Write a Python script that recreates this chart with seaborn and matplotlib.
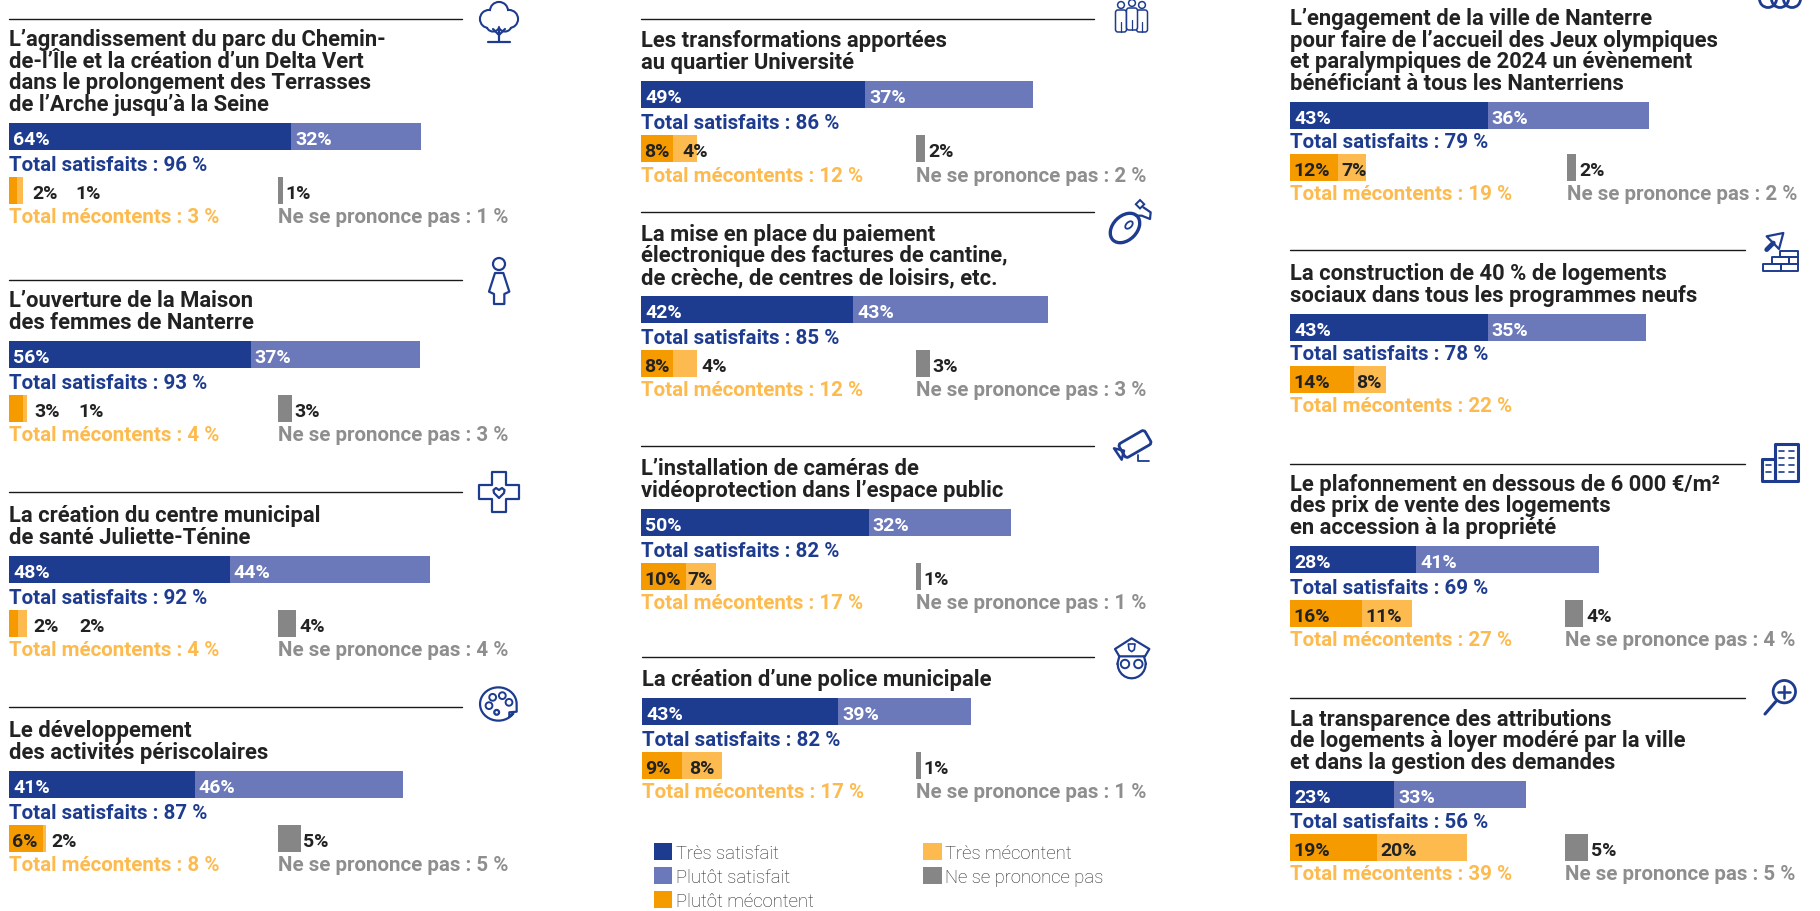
#!/usr/bin/env python3
"""Satisfaction survey, Nanterre: stacked bars per policy with icons."""

import matplotlib
matplotlib.use('Agg')
import matplotlib.pyplot as plt
import numpy as np
import seaborn as sns
from matplotlib.patches import Circle, Ellipse, FancyBboxPatch, Patch, Rectangle
from matplotlib.transforms import Affine2D

TITLES = [
    "L’agrandissement du parc du Chemin-\nde-l’Île et la création d’un Delta Vert\ndans le prolongement des Terrasses\nde l’Arche jusqu’à la Seine",
    "L’ouverture de la Maison\ndes femmes de Nanterre",
    "La création du centre municipal\nde santé Juliette-Ténine",
    "Le développement\ndes activités périscolaires",
    "Les transformations apportées\nau quartier Université",
    "La mise en place du paiement\nélectronique des factures de cantine,\nde crèche, de centres de loisirs, etc.",
    "L’installation de caméras de\nvidéoprotection dans l’espace public",
    "La création d’une police municipale",
    "L’engagement de la ville de Nanterre\npour faire de l’accueil des Jeux olympiques\net paralympiques de 2024 un évènement\nbénéficiant à tous les Nanterriens",
    "La construction de 40 % de logements\nsociaux dans tous les programmes neufs",
    "Le plafonnement en dessous de 6 000 €/m²\ndes prix de vente des logements\nen accession à la propriété",
    "La transparence des attributions\nde logements à loyer modéré par la ville\net dans la gestion des demandes",
]
# printed percentages
TRES_SATISFAIT = [64, 56, 48, 41, 49, 42, 50, 43, 43, 43, 28, 23]
PLUTOT_SATISFAIT = [32, 37, 44, 46, 37, 43, 32, 39, 36, 35, 41, 33]
PLUTOT_MECONTENT = [2, 3, 2, 6, 8, 8, 10, 9, 12, 14, 16, 19]
TRES_MECONTENT = [1, 1, 2, 2, 4, 4, 7, 8, 7, 8, 11, 20]
NE_SE_PRONONCE_PAS = [1, 3, 4, 5, 2, 3, 1, 1, 2, 0, 4, 5]
TOTAL_SATISFAITS = [96, 93, 92, 87, 86, 85, 82, 82, 79, 78, 69, 56]
TOTAL_MECONTENTS = [3, 4, 4, 8, 12, 12, 17, 17, 19, 22, 27, 39]
# bar lengths as they read off the picture: they do not always agree with the printed figure
BAR_TRES_SATISFAIT = [62.7, 53.7, 49, 41.3, 49.8, 47.2, 50.6, 43.6, 43.9, 43.9, 28.1, 23.2]
BAR_PLUTOT_SATISFAIT = [28.9, 37.7, 44.6, 46.2, 37.4, 43.3, 31.7, 29.4, 35.9, 35.1, 40.5, 29.2]
BAR_PLUTOT_MECONTENT = [1.8, 3.1, 2, 7.5, 7.2, 7.2, 10, 8.8, 10.6, 14.2, 16, 19.4]
BAR_TRES_MECONTENT = [1.2, 0.8, 2, 0.8, 5.2, 5.2, 6.7, 9, 6.2, 7.2, 11, 20]
LEGEND_LABELS = ['Très satisfait', 'Plutôt satisfait', 'Plutôt mécontent', 'Très mécontent', 'Ne se prononce pas']

# layout, in pixels of the 1820x912 picture
W, H = 1820, 912
PX_PER_PCT = 4.5
BAR_H = 27
PANEL_X = [9, 9, 9, 9, 641, 641, 641, 642, 1290, 1290, 1290, 1290]
RULE_Y = [20, 281, 493, 708, 20, 213, 447, 658, -9, 251, 465, 699]
RULE_END = [462, 462, 462, 462, 1094, 1094, 1094, 1094, 1745, 1745, 1745, 1745]
BAR_Y = [124, 342, 557, 772, 82, 297, 510, 699, 103, 315, 547, 782]
ROW_SHIFT = [0, 0, 0, 0, 0, 0, 0, 0, -2, -2, 0, -1]
NSPP_X = [278, 278, 278, 278, 916, 916, 916, 916, 1567, 1567, 1565, 1565]
MEC_LABEL_X = [(23, 66), (25, 69), (24, 70), (3, 42), (3, 41), (3, 60), (3, 46), (3, 47),
               (3, 51), (3, 66), (3, 75), (3, 90)]

NAVY = '#1E3C8F'
MID_BLUE = '#6B79BB'
ORANGE = '#F59B00'
LIGHT_ORANGE = '#FDBB4F'
GREY = '#868686'
GREY_TEXT = '#8E8E8E'
DARK = '#222222'
ICON_LW = 1.6

FONT = ['Roboto', 'DejaVu Sans']

sns.set_style('white')
fig = plt.figure(figsize=(W / 100, H / 100), dpi=100)
canvas = fig.add_axes([0, 0, 1, 1])
canvas.set_xlim(0, W)
canvas.set_ylim(H, 0)
canvas.axis('off')
canvas.set_zorder(5)


def stacked_bar(x_px, y_px, values, colors):
    """One horizontal stacked bar, longest cumulative drawn first."""
    ax = fig.add_axes([x_px / W, 1 - (y_px + BAR_H) / H, 100 * PX_PER_PCT / W, BAR_H / H])
    totals = np.cumsum(values)
    for total, color in reversed(list(zip(totals, colors))):
        sns.barplot(x=[total], y=[''], color=color, saturation=1, width=1, orient='h',
                    linewidth=0, ax=ax)
    ax.set_xlim(0, 100)
    ax.set_ylim(0.5, -0.5)
    ax.axis('off')


def bar_label(x, y, txt, color):
    canvas.text(x, y, txt, color=color, family=FONT, fontweight='bold', fontsize=14,
                va='center_baseline', ha='left')


def total_label(x, y, txt, color):
    canvas.text(x, y, txt, color=color, family=FONT, fontweight='bold', fontsize=14.8,
                va='center_baseline', ha='left')


def line(pts, origin=(0, 0), scale=3.0, closed=False, lw=ICON_LW, fill='none'):
    pts = [(origin[0] + px / scale, origin[1] + py / scale) for px, py in pts]
    if closed:
        canvas.add_patch(plt.Polygon(pts, closed=True, fc=fill, ec=NAVY, lw=lw, joinstyle='round'))
    else:
        xs, ys = zip(*pts)
        canvas.plot(xs, ys, color=NAVY, lw=lw, solid_capstyle='round', solid_joinstyle='round')


def ring(x, y, r, lw=ICON_LW, fill='none'):
    canvas.add_patch(Circle((x, y), r, fc=fill, ec=NAVY, lw=lw))


def tree():
    lobes = [(499, 12, 8), (489, 20, 8), (509, 20, 8), (493, 26, 5.5), (505, 26, 5.5), (499, 20, 7)]
    for x, y, r in lobes:
        ring(x, y, r, lw=3.0)
    for x, y, r in lobes:
        canvas.add_patch(Circle((x, y), r, fc='white', ec='none'))
    line([(499, 31), (499, 42)], scale=1)
    line([(493, 30), (499, 36), (505, 30)], scale=1)
    line([(488, 43), (510, 43)], scale=1)


def woman():
    o = (470, 250)
    ring(499, 265, 6)
    line([(75, 72), (100, 72), (118, 128), (103, 135), (103, 165), (72, 165), (72, 135), (57, 128)],
         o, closed=True)


def cross():
    c = (499, 493)
    a, b = 20, 7
    pts = [(-b, -a), (b, -a), (b, -b), (a, -b), (a, b), (b, b), (b, a), (-b, a), (-b, b), (-a, b), (-a, -b), (-b, -b)]
    line([(c[0] + x, c[1] + y) for x, y in pts], scale=1, closed=True)
    heart = [(0, 6), (-5, 1), (-5.5, -2), (-3, -4), (0, -2), (3, -4), (5.5, -2), (5, 1)]
    line([(c[0] + x, c[1] + y) for x, y in heart], scale=1, closed=True)


def palette():
    o = (470, 680)
    pts = [(85 + 55 * np.cos(t), 75 - 50 * np.sin(t)) for t in np.radians(np.arange(5, 335, 10))]
    pts += [(118, 112), (118, 100), (140, 98)]
    line(pts, o, closed=True)
    for cx, cy in [(57, 80), (68, 55), (97, 50), (117, 70)]:
        ring(o[0] + cx / 3, o[1] + cy / 3, 3.4, lw=1.4)
    ring(o[0] + 80 / 3, o[1] + 100 / 3, 2.4, lw=1.6)


def people():
    for cx, top in [(1121, 6), (1142, 6), (1132, 4)]:
        canvas.add_patch(FancyBboxPatch((cx - 5.5, top + 5), 11, 22, boxstyle='round,pad=0,rounding_size=2.5',
                                        fc='white', ec=NAVY, lw=1.1))
        ring(cx, top, 3.4, lw=1.1, fill='white')
        line([(cx, top + 17), (cx, top + 27)], scale=1, lw=0.9)


def mouse():
    canvas.add_patch(Ellipse((1125, 229), 34, 24, angle=-45, fc='none', ec=NAVY, lw=2.4))
    canvas.add_patch(Ellipse((1129, 226), 9, 5.5, angle=-45, fc='none', ec=NAVY, lw=1.3))
    line([(107, 650), (125, 650), (150, 660), (152, 640), (130, 625)], (1100, 0), lw=1.6)
    canvas.add_patch(Rectangle((1140, 201), 6, 6, angle=45, fc='none', ec=NAVY, lw=1.4))


def camera():
    rot = Affine2D().rotate_deg_around(1135, 445, -30) + canvas.transData
    canvas.add_patch(FancyBboxPatch((1120, 437), 30, 16, boxstyle='round,pad=0,rounding_size=3',
                                    fc='none', ec=NAVY, lw=2.0, transform=rot))
    line([(42, 88), (65, 122), (72, 95)], (1100, 420), closed=True, lw=1.8)
    line([(115, 108), (115, 127), (147, 127)], (1100, 420), lw=1.3)


def police():
    o = (1100, 420)
    line([(45, 690), (95, 658), (148, 690), (135, 712), (58, 712)], o, closed=True)
    line([(85, 675), (105, 675), (103, 692), (95, 698), (87, 692)], o, closed=True, lw=1.2)
    t = np.radians(np.arange(0, 181, 15))
    line([(95 + 42 * np.cos(a), 735 + 43 * np.sin(a)) for a in t], o)
    line([(58, 712), (52, 735)], o)
    line([(132, 712), (138, 735)], o)
    ring(o[0] + 75 / 3, o[1] + 735 / 3, 4.2, lw=1.4)
    ring(o[0] + 115 / 3, o[1] + 735 / 3, 4.2, lw=1.4)


def rings():
    for cx in [1768, 1780, 1792]:
        ring(cx, 0, 8.5, lw=2.0)


def bricks():
    o = (1740, 0)
    line([(80, 712), (130, 702), (117, 750)], o, closed=True, lw=1.6)
    line([(100, 732), (80, 752)], o, lw=3.4)
    for x0, x1, y0, y1 in [(120, 175, 755, 775), (95, 148, 775, 795), (148, 175, 775, 795),
                           (68, 122, 795, 815), (122, 175, 795, 815)]:
        line([(x0, y0), (x1, y0), (x1, y1), (x0, y1)], o, closed=True, lw=1.4)


def building():
    o = (1740, 430)
    line([(105, 45), (175, 45), (175, 155), (105, 155)], o, closed=True, lw=2.2)
    line([(65, 90), (105, 90), (105, 155), (65, 155)], o, closed=True, lw=2.2)
    for y in [67, 88, 109, 130]:
        line([(117, y), (132, y)], o, lw=1.2)
        line([(146, y), (161, y)], o, lw=1.2)
    for y in [109, 130]:
        line([(77, y), (93, y)], o, lw=1.2)


def magnifier():
    o = (1740, 430)
    ring(o[0] + 133 / 3, o[1] + 788 / 3, 11.2, lw=2.0)
    line([(133, 770), (133, 806)], o, lw=1.8)
    line([(115, 788), (151, 788)], o, lw=1.8)
    line([(107, 818), (75, 855)], o, lw=2.2)


ICONS = [tree, woman, cross, palette, people, mouse, camera, police, rings, bricks, building, magnifier]

for i, title in enumerate(TITLES):
    x0, y0 = PANEL_X[i], BAR_Y[i]
    shift = ROW_SHIFT[i]
    if RULE_Y[i] > 0:
        canvas.plot([x0, RULE_END[i]], [RULE_Y[i], RULE_Y[i]], color='#1a1a1a', lw=1.0)

    lines = title.split('\n')
    for j, txt in enumerate(lines):
        canvas.text(x0, y0 - 21.5 - 21.6 * (len(lines) - 1 - j), txt, color=DARK, family=FONT,
                    fontweight='bold', fontsize=15.8, va='center_baseline', ha='left')

    # satisfied row
    sat = [TRES_SATISFAIT[i], PLUTOT_SATISFAIT[i]]
    split = BAR_TRES_SATISFAIT[i]
    stacked_bar(x0, y0, [split, BAR_PLUTOT_SATISFAIT[i]], [NAVY, MID_BLUE])
    bar_label(x0 + 4, y0 + 14, f'{sat[0]}%', 'white')
    bar_label(x0 + split * PX_PER_PCT + 4, y0 + 14, f'{sat[1]}%', 'white')
    total_label(x0, y0 + 39.5 + shift, f'Total satisfaits : {TOTAL_SATISFAITS[i]} %', NAVY)

    # unhappy row
    mec = [PLUTOT_MECONTENT[i], TRES_MECONTENT[i]]
    stacked_bar(x0, y0 + 54 + shift, [BAR_PLUTOT_MECONTENT[i], BAR_TRES_MECONTENT[i]], [ORANGE, LIGHT_ORANGE])
    for val, off in zip(mec, MEC_LABEL_X[i]):
        bar_label(x0 + off, y0 + 68 + shift, f'{val}%', DARK)
    total_label(x0, y0 + 92 + shift, f'Total mécontents : {TOTAL_MECONTENTS[i]} %', LIGHT_ORANGE)

    # no opinion
    nspp = NE_SE_PRONONCE_PAS[i]
    if nspp > 0:
        nx = NSPP_X[i]
        stacked_bar(nx, y0 + 54 + shift, [nspp], [GREY])
        bar_label(nx + nspp * PX_PER_PCT + 3, y0 + 68 + shift, f'{nspp}%', DARK)
        total_label(nx, y0 + 92 + shift, f'Ne se prononce pas : {nspp} %', GREY_TEXT)

    ICONS[i]()

handles = [Patch(color=c, lw=0) for c in [NAVY, MID_BLUE, ORANGE, LIGHT_ORANGE, GREY]]
fig.legend(handles, LEGEND_LABELS, ncol=2, frameon=False, loc='upper left',
           bbox_to_anchor=(654 / W, 1 - 844 / H), borderpad=0, borderaxespad=0,
           prop={'family': FONT, 'size': 13.3, 'weight': 'light'}, labelcolor='#222222',
           handlelength=1.0, handleheight=1.0, handletextpad=0.2,
           labelspacing=0.3, columnspacing=5.9)

fig.savefig('out.png', dpi=100)
